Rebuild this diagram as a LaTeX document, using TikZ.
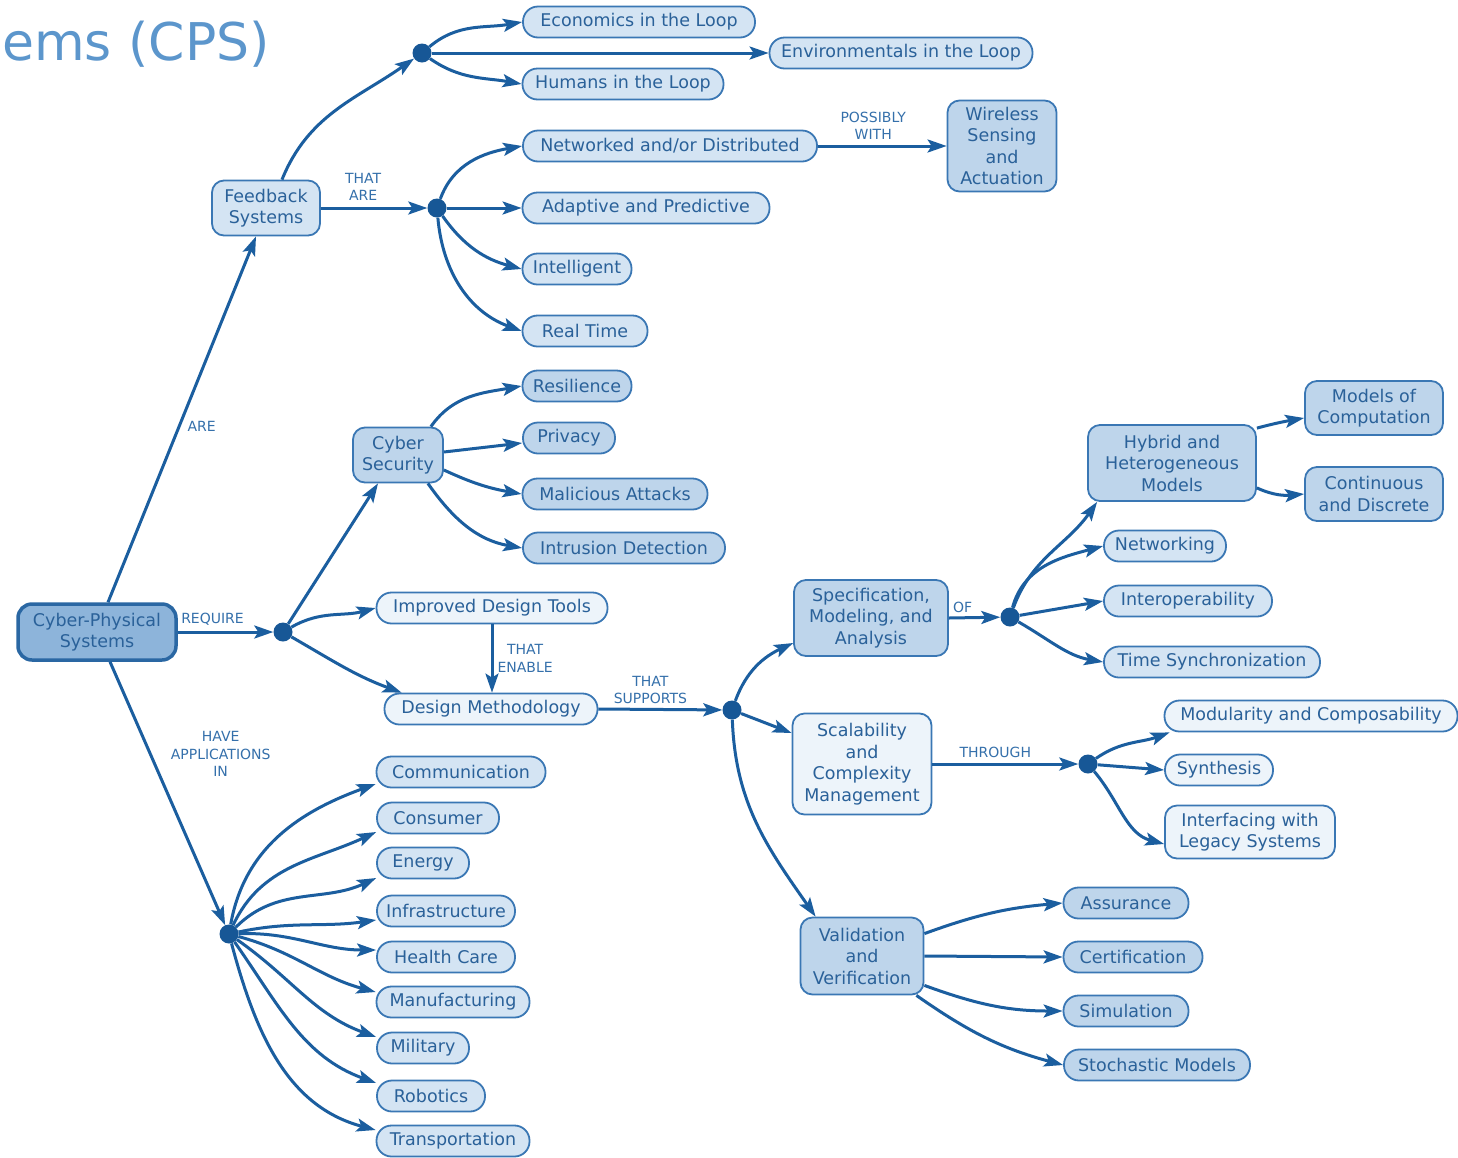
\documentclass[tikz,border=0pt]{standalone}
\usepackage{fontspec}
\setmainfont{DejaVu Sans}
\usetikzlibrary{arrows.meta}

\definecolor{linecol}{HTML}{1B5E9F}
\definecolor{boxcol}{HTML}{3A77B4}
\definecolor{txtcol}{HTML}{2A6199}
\definecolor{lblcol}{HTML}{3570AB}
\definecolor{dotcol}{HTML}{175796}
\definecolor{cpsfill}{HTML}{8DB4DA}
\definecolor{cpsborder}{HTML}{2A67A3}
\definecolor{midfill}{HTML}{BED5EB}
\definecolor{leaffill}{HTML}{D4E4F3}
\definecolor{palefill}{HTML}{EDF4FA}
\definecolor{titlecol}{HTML}{5C96CC}

\newcommand\cmapfont{\fontsize{17.5}{21.5}\selectfont}
\newcommand\cmaplblfont{\fontsize{14}{17.5}\selectfont}

\tikzset{
  box/.style={draw=boxcol, line width=1.8pt, text=txtcol, font=\cmapfont,
    align=center, inner sep=2pt, rounded corners=12pt},
  leaf/.style={box, fill=leaffill, rounded corners=15pt, minimum height=31pt},
  paleleaf/.style={leaf, fill=palefill},
  midleaf/.style={leaf, fill=midfill},
  group/.style={box, fill=midfill},
  palegroup/.style={box, fill=palefill},
  rootbox/.style={box, fill=cpsfill, draw=cpsborder, line width=3.5pt, rounded corners=14pt},
  hub/.style={circle, fill=dotcol, inner sep=0pt, minimum size=19pt},
  lbl/.style={text=lblcol, font=\cmaplblfont, align=center, inner sep=1pt},
  arr/.style={draw=linecol, line width=3pt,
    -{Stealth[length=19pt, width=13pt, inset=4pt]}},
}

\begin{document}
\begin{tikzpicture}[x=1pt, y=1pt]
\useasboundingbox (0,0) rectangle (1458,-1157);
\fill[white] (0,0) rectangle (1458,-1157);

% slide title (cut at the left edge)
\node[anchor=base east, inner sep=0pt, text=titlecol,
      font=\fontsize{52}{58}\selectfont] (title) at (270,-60) {ems (CPS)};

% ---------- nodes ----------
\node[rootbox, minimum width=158pt, minimum height=56pt] (cps) at (97,-632) {Cyber-Physical\\Systems};

% feedback branch
\node[box, fill=leaffill, minimum width=108pt, minimum height=55pt] (fb) at (266,-208) {Feedback\\Systems};
\node[hub] (d1) at (422,-53) {};
\node[leaf, minimum width=232pt] (econ) at (639,-22) {Economics in the Loop};
\node[leaf, minimum width=263pt] (env) at (901,-53) {Environmentals in the Loop};
\node[leaf, minimum width=201pt] (hum) at (623,-84) {Humans in the Loop};
\node[hub] (d2) at (437,-208) {};
\node[leaf, minimum width=294pt] (net) at (670,-146) {Networked and/or Distributed};
\node[group, minimum width=109pt, minimum height=91pt] (wire) at (1002,-146) {Wireless\\Sensing\\and\\Actuation};
\node[leaf, minimum width=247pt] (adap) at (646,-208) {Adaptive and Predictive};
\node[leaf, minimum width=109pt] (intel) at (577,-269) {Intelligent};
\node[leaf, minimum width=125pt] (rt) at (585,-331) {Real Time};

% requirements branch
\node[hub] (d3) at (283,-632) {};
\node[group, minimum width=90pt, minimum height=55pt] (cy) at (398,-455) {Cyber\\Security};
\node[midleaf, minimum width=109pt] (res) at (577,-386) {Resilience};
\node[midleaf, minimum width=92pt] (priv) at (569,-438) {Privacy};
\node[midleaf, minimum width=185pt] (mal) at (615,-494) {Malicious Attacks};
\node[midleaf, minimum width=202pt] (intr) at (624,-548) {Intrusion Detection};
\node[paleleaf, minimum width=231pt] (imp) at (492,-608) {Improved Design Tools};
\node[paleleaf, minimum width=213pt] (dm) at (491,-709) {Design Methodology};
\node[hub] (d4) at (732,-710) {};

\node[group, minimum width=154pt, minimum height=76pt] (spec) at (871,-618) {Specification,\\Modeling, and\\Analysis};
\node[hub] (d6) at (1010,-617) {};
\node[group, minimum width=168pt, minimum height=76pt] (hyb) at (1172,-463) {Hybrid and\\Heterogeneous\\Models};
\node[group, minimum width=138pt, minimum height=54pt] (moc) at (1374,-408) {Models of\\Computation};
\node[group, minimum width=138pt, minimum height=54pt] (cont) at (1374,-494) {Continuous\\and Discrete};
\node[leaf, minimum width=122pt] (netw) at (1165,-546) {Networking};
\node[leaf, minimum width=168pt] (iop) at (1188,-601) {Interoperability};
\node[leaf, minimum width=216pt] (ts) at (1212,-662) {Time Synchronization};

\node[palegroup, minimum width=139pt, minimum height=101pt] (scal) at (862,-764) {Scalability\\and\\Complexity\\Management};
\node[hub] (d7) at (1088,-764) {};
\node[paleleaf, minimum width=293pt] (mod) at (1311,-716) {Modularity and Composability};
\node[paleleaf, minimum width=108pt] (syn) at (1219,-770) {Synthesis};
\node[palegroup, minimum width=170pt, minimum height=53pt] (intf) at (1250,-832) {Interfacing with\\Legacy Systems};

\node[group, minimum width=123pt, minimum height=77pt] (val) at (862,-956) {Validation\\and\\Verification};
\node[midleaf, minimum width=125pt] (assur) at (1126,-903) {Assurance};
\node[midleaf, minimum width=139pt] (cert) at (1133,-957) {Certification};
\node[midleaf, minimum width=125pt] (sim) at (1126,-1011) {Simulation};
\node[midleaf, minimum width=186pt] (stoch) at (1157,-1065) {Stochastic Models};

% applications branch
\node[hub] (d5) at (229,-934) {};
\node[leaf, minimum width=169pt] (comm) at (461,-772) {Communication};
\node[leaf, minimum width=122pt] (cons) at (438,-818) {Consumer};
\node[leaf, minimum width=92pt] (ener) at (423,-863) {Energy};
\node[leaf, minimum width=138pt] (infra) at (446,-911) {Infrastructure};
\node[leaf, minimum width=138pt] (hc) at (446,-957) {Health Care};
\node[leaf, minimum width=153pt] (manu) at (453,-1002) {Manufacturing};
\node[leaf, minimum width=92pt] (mil) at (423,-1048) {Military};
\node[leaf, minimum width=108pt] (rob) at (431,-1096) {Robotics};
\node[leaf, minimum width=153pt] (trans) at (453,-1141) {Transportation};

% ---------- connectors ----------
\draw[arr] ([xshift=11pt]cps.north) -- node[lbl, pos=0.48, right=6pt] (lAre) {ARE} ([xshift=-10pt]fb.south);
\draw[arr] ([xshift=16pt]fb.north) to[out=68,in=215] (d1);
\draw[arr] (d1) to[out=40,in=190] (econ.west);
\draw[arr] (d1) -- (env.west);
\draw[arr] (d1) to[out=-35,in=170] (hum.west);
\draw[arr] (fb.east) -- node[lbl, above=5pt, xshift=-11pt] (lThatAre) {THAT\\ARE} (d2);
\draw[arr] (d2) to[out=70,in=190] (net.west);
\draw[arr] (d2) -- (adap.west);
\draw[arr] (d2) to[out=-55,in=165] (intel.west);
\draw[arr] (d2) to[out=-85,in=160] (rt.west);
\draw[arr] (net.east) -- node[lbl, above=4pt, xshift=-9pt] (lPoss) {POSSIBLY\\WITH} (wire.west);

\draw[arr] (cps.east) -- node[lbl, above=4pt, xshift=-13pt] (lReq) {REQUIRE} (d3);
\draw[arr] (d3) -- ([xshift=-20pt]cy.south);
\draw[arr] (d3) to[out=30,in=195] (imp.west);
\draw[arr] (d3) to[out=-30,in=160] ([xshift=18pt]dm.north west);
\draw[arr] ([xshift=-13pt]cy.north east) to[out=55,in=190] (res.west);
\draw[arr] ([yshift=3pt]cy.east) -- ([yshift=-5pt]priv.west);
\draw[arr] ([yshift=-15pt]cy.east) to[out=-25,in=170] (mal.west);
\draw[arr] ([xshift=-16pt]cy.south east) to[out=-55,in=170] (intr.west);
\draw[arr] (imp.south) -- node[lbl, right=3pt] (lEnable) {THAT\\ENABLE} (imp.south |- dm.north);
\draw[arr] (dm.east) -- node[lbl, above=3pt, xshift=-10pt] (lSupp) {THAT\\SUPPORTS} (d4);

\draw[arr] (d4) to[out=70,in=205] ([yshift=-25pt]spec.west);
\draw[arr] (d4) -- ([yshift=31pt]scal.west);
\draw[arr] (d4) to[out=-88,in=125] ([xshift=16pt]val.north west);

\draw[arr] (spec.east) -- node[lbl, above=2pt, xshift=-12pt] (lOf) {OF} (d6);
\draw[arr] (d6) to[out=70,in=235] ([xshift=10pt]hyb.south west);
\draw[arr] (d6) to[out=75,in=195] (netw.west);
\draw[arr] (d6) -- (iop.west);
\draw[arr] (d6) to[out=-30,in=170] (ts.west);
\draw[arr] ([yshift=-4pt]hyb.north east) to[out=15,in=190] ([yshift=-10pt]moc.west);
\draw[arr] ([yshift=14pt]hyb.south east) to[out=-25,in=185] (cont.west);

\draw[arr] (scal.east) -- node[lbl, above=4pt, xshift=-10pt] (lThrough) {THROUGH} (d7);
\draw[arr] (d7) to[out=35,in=200] ([xshift=6pt]mod.south west);
\draw[arr] (d7) -- (syn.west);
\draw[arr] (d7) to[out=-50,in=165] ([yshift=-12pt]intf.west);

\draw[arr] ([yshift=-17pt]val.north east) to[out=20,in=185] (assur.west);
\draw[arr] (val.east) -- (cert.west);
\draw[arr] ([yshift=10pt]val.south east) to[out=-20,in=180] (sim.west);
\draw[arr] ([xshift=-8pt]val.south east) to[out=-35,in=165] (stoch.west);

\draw[arr] ([xshift=13pt]cps.south) -- node[lbl, pos=0.35, right=18pt] (lHave) {HAVE\\APPLICATIONS\\IN} (d5);
\draw[arr] (d5) to[out=80,in=200] ([yshift=-12pt]comm.west);
\draw[arr] (d5) to[out=65,in=205] ([yshift=-14pt]cons.west);
\draw[arr] (d5) to[out=45,in=205] ([yshift=-15pt]ener.west);
\draw[arr] (d5) to[out=12,in=188] ([yshift=-9pt]infra.west);
\draw[arr] (d5) to[out=2,in=180] ([yshift=7pt]hc.west);
\draw[arr] (d5) to[out=-15,in=165] ([yshift=10pt]manu.west);
\draw[arr] (d5) to[out=-35,in=160] ([yshift=11pt]mil.west);
\draw[arr] (d5) to[out=-55,in=160] ([yshift=13pt]rob.west);
\draw[arr] (d5) to[out=-75,in=165] ([yshift=11pt]trans.west);
\end{tikzpicture}
\end{document}
